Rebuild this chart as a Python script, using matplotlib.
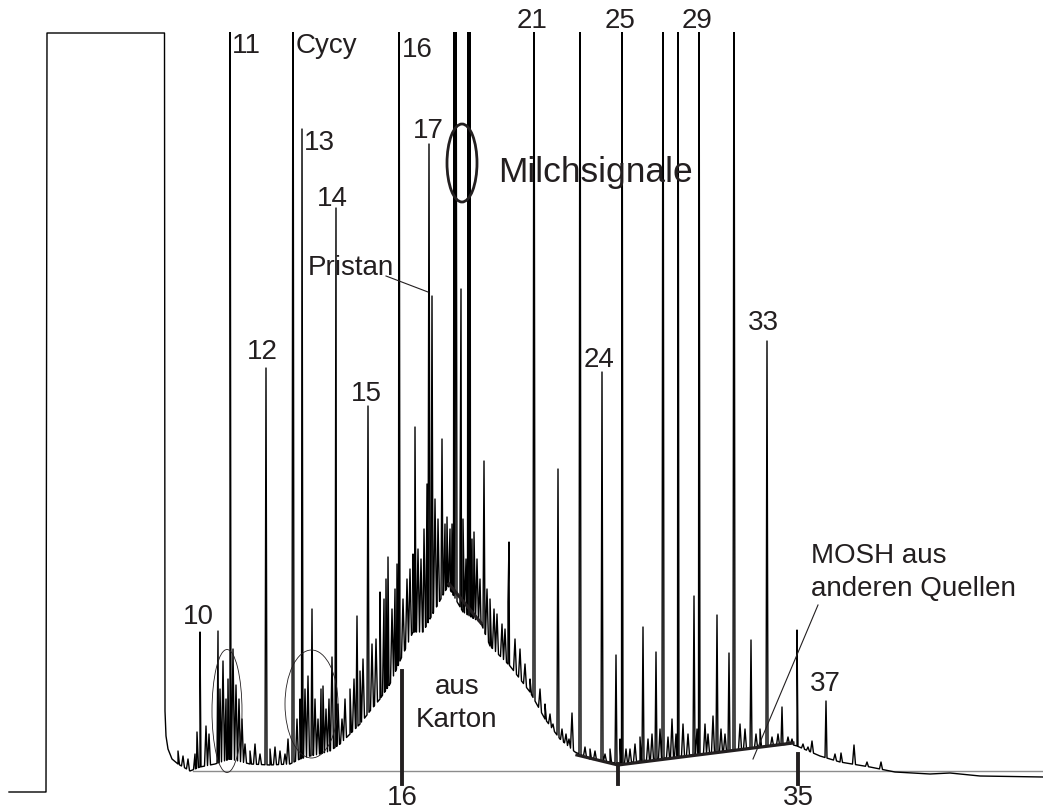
import numpy as np
import matplotlib
matplotlib.use("Agg")
import matplotlib.pyplot as plt
from matplotlib.patches import Ellipse

plt.rcParams['font.family'] = ['Liberation Sans', 'DejaVu Sans']

# Retention axis in plot units (0..1043), signal as height above the grey baseline
# Untergrund / Huckel der Spur (x, Signal)
env_x = [9, 46, 47, 164.5, 165, 166, 168, 172, 178, 185, 190, 200, 215, 230, 250, 270, 290,
         300, 310, 320, 330, 340, 350, 360, 370, 380, 390, 400, 413, 423, 437, 448, 463,
         481, 490, 510, 530, 545, 560, 575, 590, 610, 620, 640, 700, 760, 790, 797, 820,
         840, 870, 895, 930, 950, 980, 1043]
env_y = [-21, -21, 738, 738, 60, 35, 22, 12, 7, 3, 0, 4, 7, 12, 7, 6, 7,
         12, 15, 17, 20, 27, 37, 47, 60, 72, 87, 110, 139, 139, 165, 185, 159,
         148, 125, 105, 79, 52, 32, 19, 12, 9, 7, 10, 17, 24, 27, 25, 15,
         9, 4, -1, -3, -2, -5, -6]

# grosse Peaks (abgeschnitten oben)
tall_x = [230, 293, 399, 454, 456, 468, 470, 534, 580, 622, 663, 678, 699, 734]
tall_h = 900

# mittlere Peaks
mid_x = [200, 218, 266, 302, 336, 368, 429, 432, 461, 509, 558, 602, 767, 415, 442,
         484, 388, 427, 616, 643, 656, 694, 717, 729, 751, 797, 826, 782, 312, 357, 380]
mid_h = [139, 140, 403, 642, 563, 365, 627, 475, 482, 229, 302, 399, 430, 344, 332,
         310, 214, 287, 116, 144, 119, 175, 156, 118, 131, 141, 70, 64, 162, 155, 179]

# kleine Peaks / Rauschen
small_x = [178, 183, 188, 195, 197, 206, 209, 220, 223, 226, 228, 233, 236, 239, 242, 245,
           250, 255, 260, 270, 275, 280, 285, 288, 297, 300, 305, 308, 315, 318, 321, 323,
           326, 329, 332, 338, 342, 345, 350, 354, 360, 363, 372, 376, 384, 386, 392, 395,
           397, 403, 407, 410, 413, 418, 421, 424, 435, 438, 445, 447, 450, 452, 460, 463,
           466, 472, 474, 477, 480, 487, 490, 494, 497, 502, 505, 508, 515, 520, 525, 530,
           540, 545, 550, 553, 562, 566, 569, 572, 585, 590, 595, 605, 610, 620, 626, 630,
           635, 640, 648, 652, 660, 668, 672, 676, 683, 688, 697, 705, 708, 713, 721, 725,
           740, 745, 756, 760, 772, 778, 788, 792, 803, 808, 812, 835, 841, 854, 867, 881]
small_h = [20, 15, 12, 17, 39, 45, 37, 82, 110, 72, 92, 122, 86, 72, 52, 27,
           20, 27, 17, 22, 24, 20, 17, 32, 52, 72, 82, 95, 72, 52, 82, 85,
           62, 72, 114, 67, 52, 72, 82, 92, 100, 112, 127, 132, 172, 192, 162, 182,
           207, 172, 192, 202, 217, 222, 212, 242, 272, 252, 247, 254, 242, 247, 232, 252,
           212, 232, 239, 212, 192, 182, 172, 162, 157, 147, 142, 169, 132, 122, 107, 92,
           82, 67, 57, 47, 42, 37, 32, 58, 24, 22, 20, 17, 22, 32, 22, 22,
           27, 34, 32, 37, 42, 34, 52, 37, 47, 37, 42, 47, 37, 55, 42, 37,
           47, 42, 37, 42, 34, 37, 34, 32, 27, 24, 30, 17, 18, 26, 9, 9]

# Zahlen an den Peaks (Kettenlaenge) und ihre Lage
peak_labels = ['11', 'Cycy', '16', '13', '14', 'Pristan', '17', '21', '25', '29',
               '12', '15', '24', '33', '10', '37']
label_x = [232, 296, 402, 304, 317, 308, 413, 517, 605, 682, 247, 351, 584, 748, 183, 810]
label_y = [719, 719, 715, 622, 566, 497, 634, 744, 744, 744, 413, 371, 405, 442, 148, 81]

# Markierungen auf der Grundlinie (n-C16, n-C35)
mark_x = [402, 618, 798]
mark_top = [100, 7, 17]
mark_labels = ['16', '', '35']

TXT = '#231f20'

fig = plt.figure(figsize=(10.43, 8.12), dpi=100)
ax = fig.add_axes([0, 0, 1, (812 - 33) / 812])
ax.set_xlim(0, 1043)
ax.set_ylim(-40, 739)
ax.axis('off')


def untergrund(x):
    return np.interp(x, env_x, env_y)


pts = list(zip(env_x, env_y))
w = 1.0
for px in tall_x:
    pts += [(px - w, untergrund(px - w)), (px, tall_h), (px + w, untergrund(px + w))]
for px, h in zip(mid_x, mid_h):
    pts += [(px - w, untergrund(px - w)), (px, h), (px + w, untergrund(px + w))]
for px, h in zip(small_x, small_h):
    b = untergrund(px)
    pts += [(px - 1.5, untergrund(px - 1.5)), (px, max(h, b)), (px + 1.5, untergrund(px + 1.5))]
pts.sort(key=lambda p: p[0])
tx = np.array([p[0] for p in pts])
ty = np.array([p[1] for p in pts])

# graue Grundlinie
ax.plot([193, 1043], [0, 0], color='#8c8c8c', lw=1.0, zorder=1)

ax.plot(tx, ty, color='black', lw=1.0, zorder=2)

# Karton-Huckel Flanke und MOSH Grundlinie
ax.plot([449, 481], [187, 148], color='#231f20', lw=2.3, zorder=3)
ax.plot([577, 618, 793], [16, 6, 28], color='#231f20', lw=2.3, zorder=3)
for mx, mt, ml in zip(mark_x, mark_top, mark_labels):
    ax.plot([mx, mx], [-13, mt], color='#231f20', lw=2.8, zorder=3)
    if ml:
        ax.text(mx, -39, ml, fontsize=20, color=TXT, ha='center', va='bottom')

for lab, lx, ly in zip(peak_labels, label_x, label_y):
    ax.text(lx, ly, lab, fontsize=20, color=TXT, ha='left', va='baseline')

# Pristan Hinweislinie
ax.plot([386, 428], [495, 479], color='#231f20', lw=0.8)

ax.text(498, 590, 'Milchsignale', fontsize=25.5, color=TXT, ha='left', va='baseline')
ax.add_patch(Ellipse((462, 608), 30, 78, fill=False, ec='#231f20', lw=2.0, zorder=4))
ax.add_patch(Ellipse((227, 60), 30, 123, fill=False, ec='#231f20', lw=0.6, zorder=4))
ax.add_patch(Ellipse((311.5, 67), 53, 108, fill=False, ec='#231f20', lw=0.6, zorder=4))

ax.text(457, 78, 'aus', fontsize=20, color=TXT, ha='center', va='baseline')
ax.text(457, 45, 'Karton', fontsize=20, color=TXT, ha='center', va='baseline')

ax.text(811, 209, 'MOSH aus', fontsize=20, color=TXT, ha='left', va='baseline')
ax.text(811, 176, 'anderen Quellen', fontsize=20, color=TXT, ha='left', va='baseline')
ax.plot([818, 753], [166, 12], color='#231f20', lw=0.8)

fig.savefig('out.png', dpi=100)
